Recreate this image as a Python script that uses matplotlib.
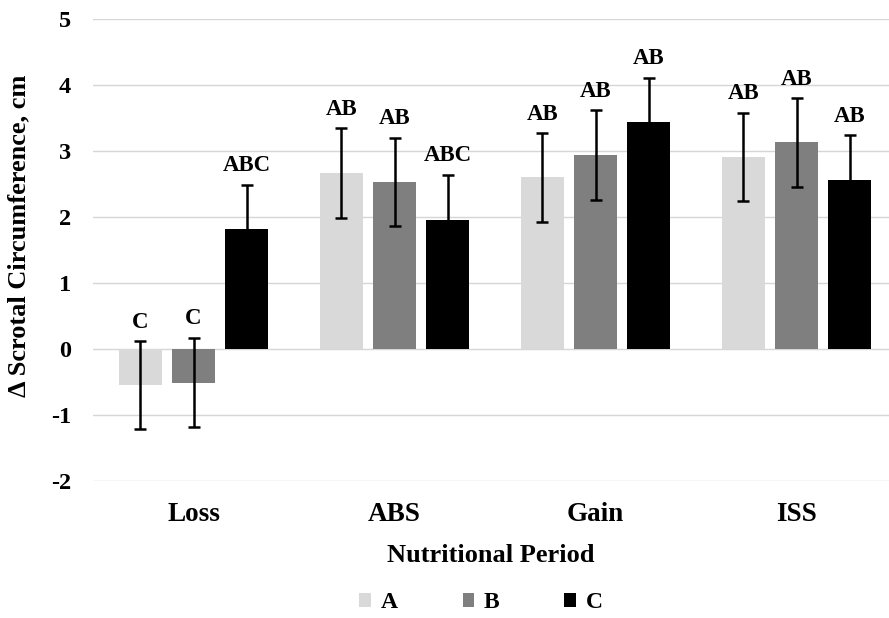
import matplotlib
matplotlib.use("Agg")
import matplotlib.pyplot as plt
import numpy as np

plt.rcParams['font.family'] = ['Liberation Serif', 'DejaVu Serif']
plt.rcParams['font.weight'] = 'bold'

periods = ["Loss", "ABS", "Gain", "ISS"]
groups = ["A", "B", "C"]

mean_A = [-0.55, 2.67, 2.60, 2.91]
mean_B = [-0.51, 2.53, 2.94, 3.13]
mean_C = [1.81, 1.96, 3.44, 2.56]

err_A = [0.67, 0.68, 0.67, 0.67]
err_B = [0.68, 0.67, 0.68, 0.67]
err_C = [0.68, 0.68, 0.67, 0.68]

letters_A = ["C", "AB", "AB", "AB"]
letters_B = ["C", "AB", "AB", "AB"]
letters_C = ["ABC", "ABC", "AB", "AB"]

y_ticks = [-2, -1, 0, 1, 2, 3, 4, 5]

colors = ["#d9d9d9", "#7f7f7f", "#000000"]

W, H = 889, 618
fig = plt.figure(figsize=(W / 100, H / 100), dpi=100)
ax = fig.add_axes([93 / W, (H - 481) / H, (W - 93) / W, (481 - 19) / H])

x = np.arange(len(periods))
width = 0.213
step = 0.264
series = [(mean_A, err_A, letters_A), (mean_B, err_B, letters_B), (mean_C, err_C, letters_C)]

for i, (means, errs, letters) in enumerate(series):
    xs = x + (i - 1) * step
    ax.bar(xs, means, width, color=colors[i], label=groups[i], zorder=2)
    ax.errorbar(xs, means, yerr=errs, fmt='none', ecolor='black',
                elinewidth=1.8, capsize=4.5, capthick=1.8, zorder=3)
    for xi, m, e, lab in zip(xs, means, errs, letters):
        ax.annotate(lab, (xi, m + e), xytext=(0, 6), textcoords='offset points',
                    ha='center', va='bottom', fontsize=16.5, fontweight='bold')

ax.set_ylim(-2.002, 5.0)
ax.set_xlim(-0.5, -0.5 + (W - 93) / 201.0)
ax.set_yticks(y_ticks)
ax.set_yticklabels([str(t) for t in y_ticks], fontsize=17.5, fontweight='bold')
ax.set_xticks(x)
ax.set_xticklabels(periods, fontsize=19.5, fontweight='bold')
ax.tick_params(axis='y', length=0, pad=16)
ax.tick_params(axis='x', length=0, pad=15)

ax.yaxis.grid(True, color='#d6d6d6', linewidth=1.0, zorder=0)
ax.set_axisbelow(True)
for s in ax.spines.values():
    s.set_visible(False)

ax.set_ylabel("Δ Scrotal Circumference, cm", fontsize=19, fontweight='bold')
ax.yaxis.set_label_coords(30 / W, 1 - 236 / H, transform=fig.transFigure)
ax.set_xlabel("Nutritional Period", fontsize=19, fontweight='bold', labelpad=12)

handles, labels = ax.get_legend_handles_labels()
fig.legend(handles, labels, loc='center', bbox_to_anchor=(481 / W, 1 - 603 / H),
           ncol=3, frameon=False, handlelength=0.5, handleheight=0.5,
           handletextpad=0.4, columnspacing=2.75, prop={'weight': 'bold', 'size': 17})

fig.savefig("out.png", dpi=100)
